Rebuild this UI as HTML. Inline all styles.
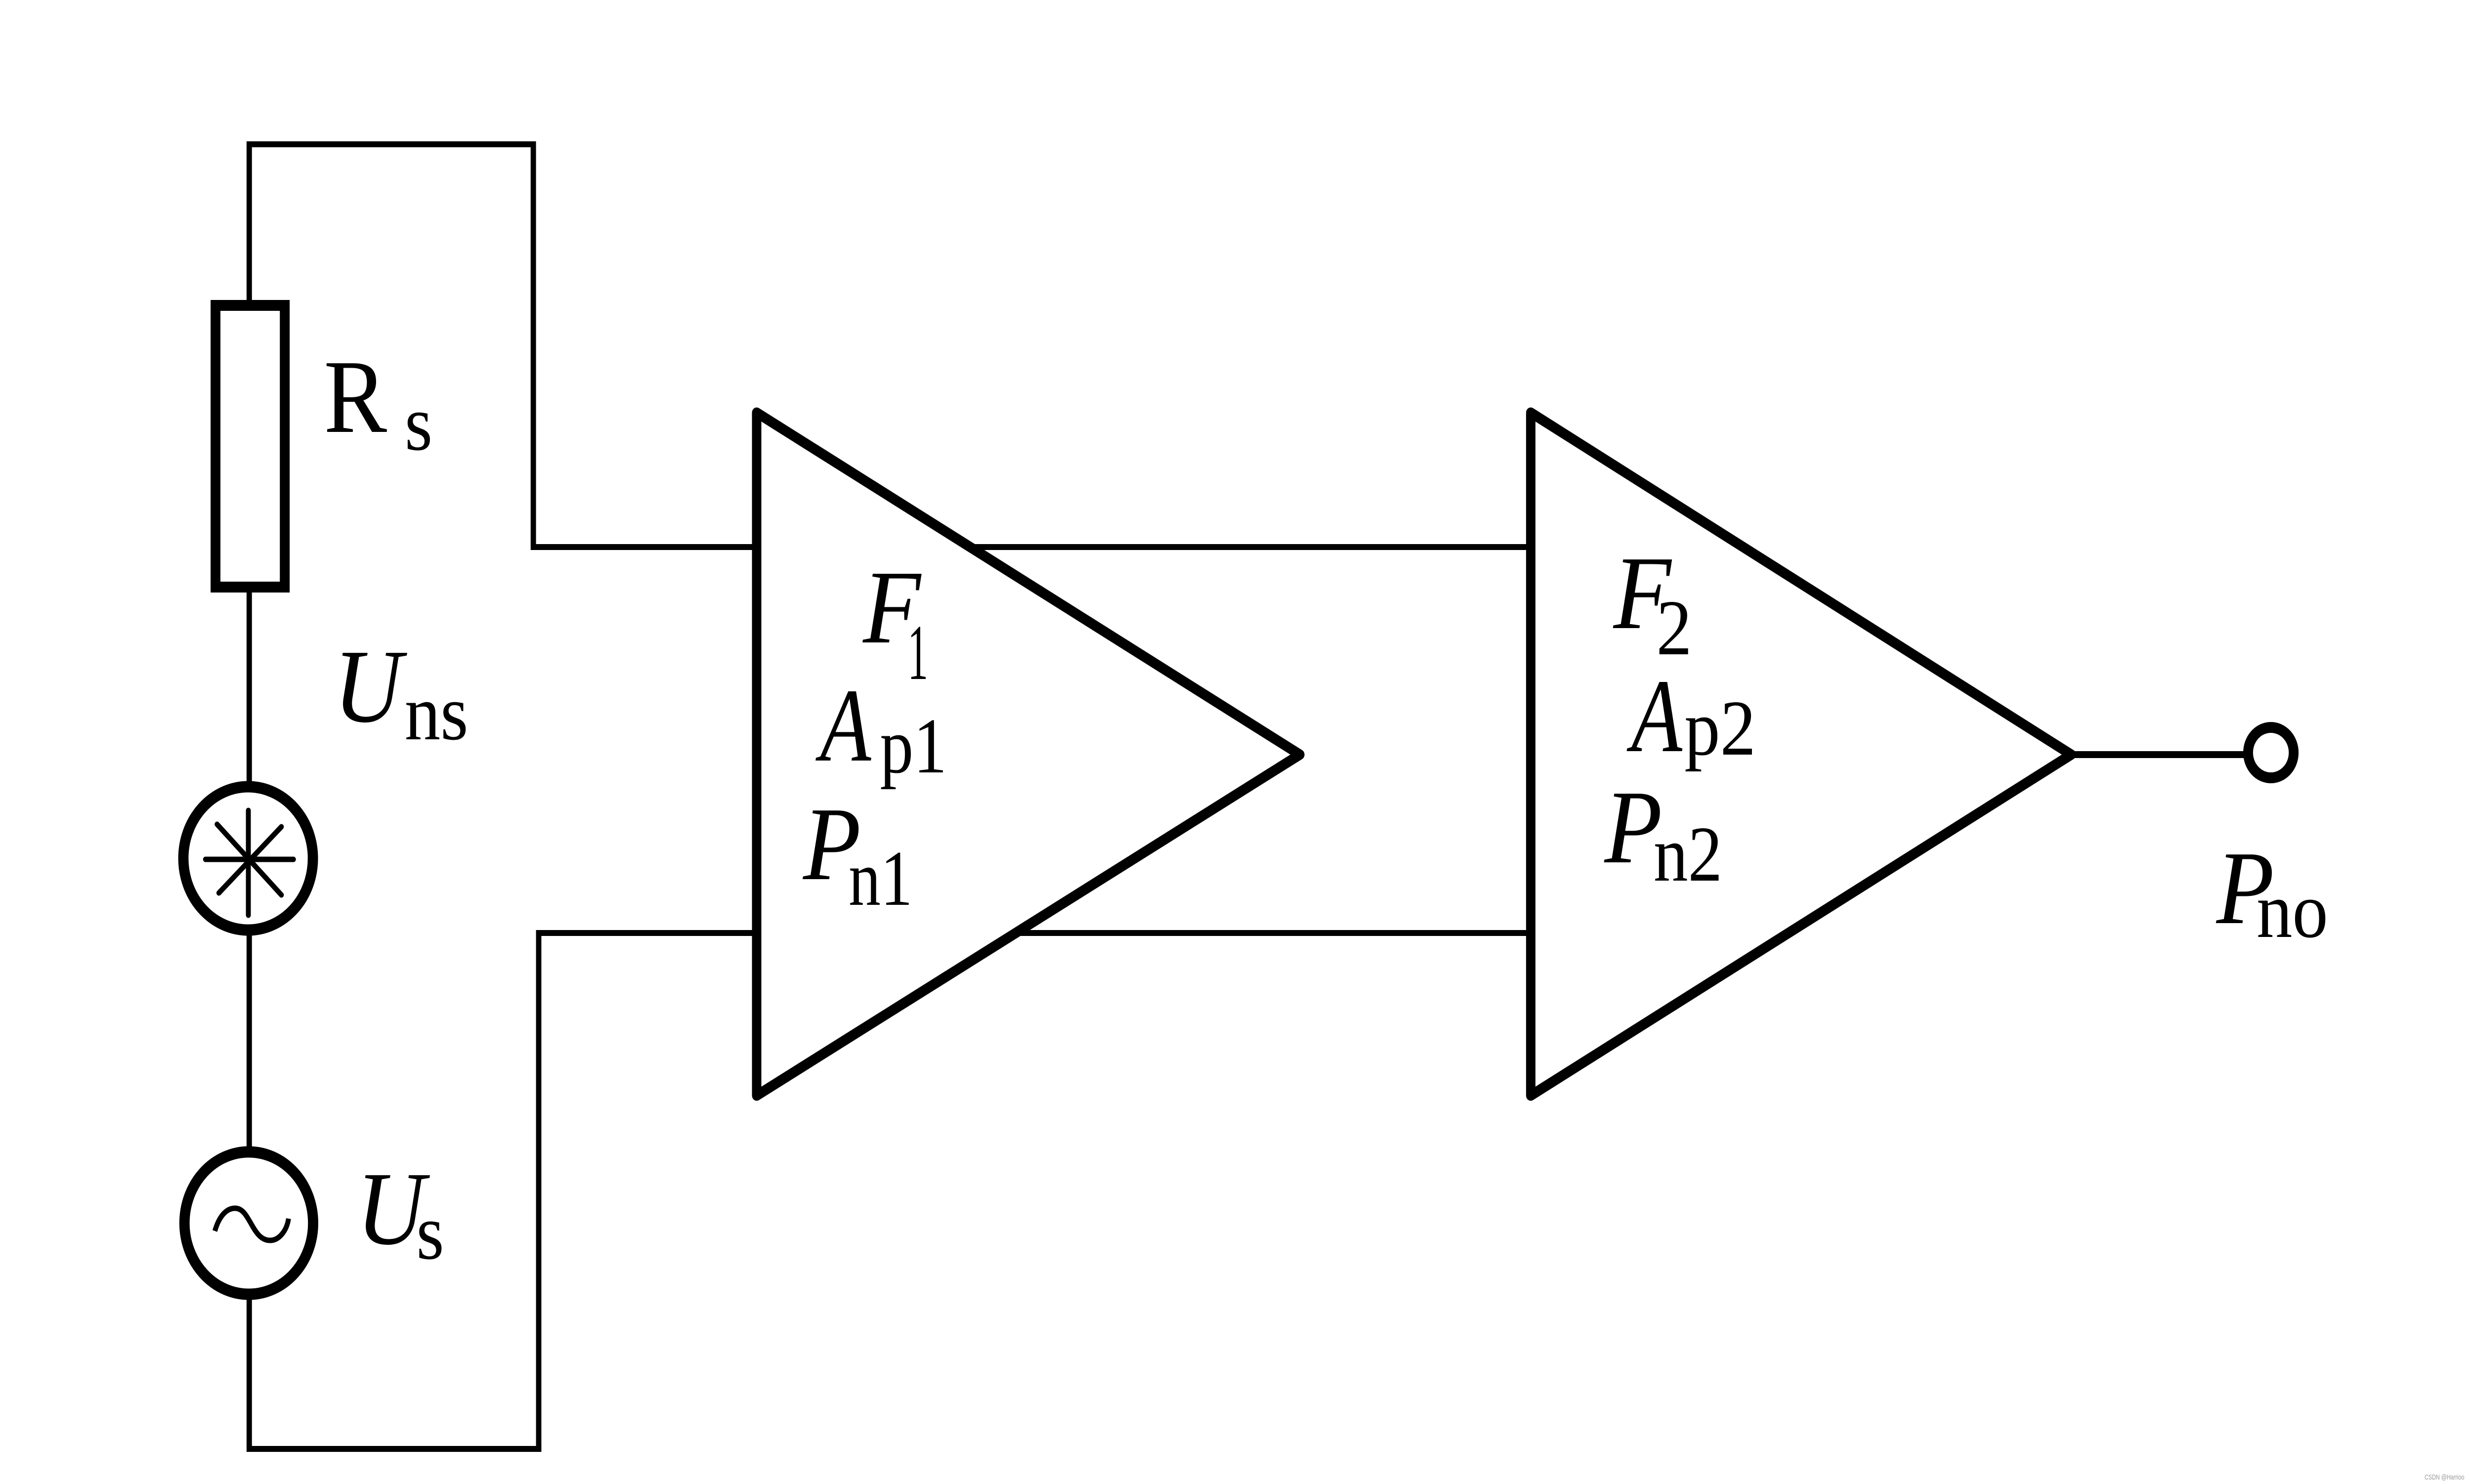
<!DOCTYPE html>
<html>
<head>
<meta charset="utf-8">
<style>
html,body{margin:0;padding:0;background:#fff;width:100%;height:100%;overflow:hidden}
svg{display:block;width:100vw;height:100vh}
text{font-family:"Liberation Serif",serif;fill:#000}
.i{font-style:italic;font-size:212px}
.r{font-size:212px}
.s{font-size:160px}
</style>
</head>
<body>
<svg viewBox="0 0 5532 3003" preserveAspectRatio="none" xmlns="http://www.w3.org/2000/svg">
<rect width="5532" height="3003" fill="#fff"/>
<g fill="none" stroke="#000" stroke-linecap="square" stroke-linejoin="miter">
  <!-- wires -->
  <path stroke-width="12" d="M558 2932V292H1194V1107H3427M558 2932H1206V1888H3427"/>
  <path stroke-width="14" d="M4640 1527H5040"/>
  <!-- resistor -->
  <rect x="482.500" y="618" width="155" height="570" stroke-width="22" fill="#fff"/>
  <!-- noise source -->
  <circle cx="555.500" cy="1737" r="145" stroke-width="23" fill="#fff"/>
  <g stroke-width="11" stroke-linecap="round">
    <path d="M556 1640V1852M460 1739H657M486 1668L630 1811M630 1673L490 1807"/>
  </g>
  <!-- AC source -->
  <circle cx="557" cy="2475" r="144" stroke-width="23" fill="#fff"/>
  <path stroke-width="11" stroke-linecap="butt" d="M481 2491C492 2457 510 2444 528 2445C560 2447 564 2508 603 2510C625 2511 642 2490 646 2466"/>
  <!-- amplifiers -->
  <path fill="#fff" stroke-width="21" stroke-linejoin="round" d="M1694 835L2910 1527L1694 2217Z"/>
  <path fill="#fff" stroke-width="21" stroke-linejoin="round" d="M3427 835L4637 1527L3427 2217Z"/>
  <!-- output terminal -->
  <circle cx="5084" cy="1523" r="51" stroke-width="22" fill="#fff"/>
</g>
<!-- labels -->
<text class="r" x="725" y="874">R</text><text class="s" x="906" y="910">s</text>
<text class="i" x="741" y="1460" style="display:none"></text>
<text class="i" x="747" y="1460">U</text><text class="s" x="906" y="1496">ns</text>
<text class="i" x="798" y="2517">U</text><text class="s" x="932" y="2547">s</text>

<text class="i" x="1932" y="1300">F</text><text class="s" x="2032" y="1374" textLength="46" lengthAdjust="spacingAndGlyphs">1</text>
<text class="i" x="1836" y="1539" textLength="114" lengthAdjust="spacingAndGlyphs">A</text><text class="s" x="1970" y="1563" textLength="150" lengthAdjust="spacingAndGlyphs">p1</text>
<text class="i" x="1798" y="1779">P</text><text class="s" x="1900" y="1831" textLength="143" lengthAdjust="spacingAndGlyphs">n1</text>

<text class="i" x="3612" y="1271">F</text><text class="s" x="3708" y="1324">2</text>
<text class="i" x="3652" y="1520" textLength="114" lengthAdjust="spacingAndGlyphs">A</text><text class="s" x="3771" y="1527">p2</text>
<text class="i" x="3592" y="1745">P</text><text class="s" x="3702" y="1782" textLength="154" lengthAdjust="spacingAndGlyphs">n2</text>

<text class="i" x="4962" y="1868">P</text><text class="s" x="5052" y="1896">no</text>

<text x="5428" y="2994" textLength="89" lengthAdjust="spacingAndGlyphs" style="font-family:'Liberation Sans',sans-serif;font-size:15px;fill:#999">CSDN @Harrioo</text>
</svg>
</body>
</html>
